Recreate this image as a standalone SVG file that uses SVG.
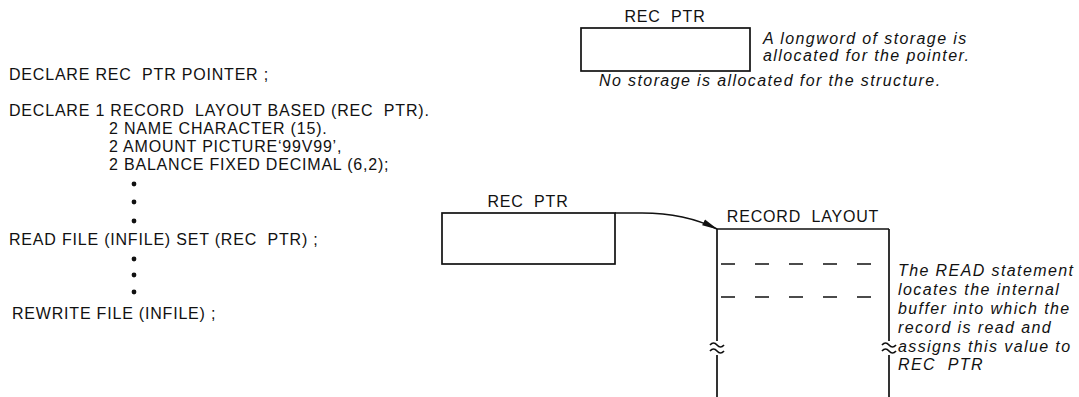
<svg xmlns="http://www.w3.org/2000/svg" width="1079" height="397" viewBox="0 0 1079 397">
<style>
text{white-space:pre}
.code{font-family:"Liberation Sans",Arial,sans-serif;font-size:16px;letter-spacing:0.8px;fill:#111}
.note{font-family:"Liberation Sans",Arial,sans-serif;font-size:16px;font-style:italic;letter-spacing:1.4px;fill:#111}
.box{fill:none;stroke:#111;stroke-width:1.7}
.ln{fill:none;stroke:#111;stroke-width:1.7}
.dash{fill:none;stroke:#111;stroke-width:1.4;stroke-dasharray:14 20}
.dot{fill:#111}
</style>
<defs>
<marker id="ah" markerWidth="16" markerHeight="8" refX="15" refY="4" orient="auto" markerUnits="userSpaceOnUse">
<path d="M0,0.8 L16,4 L0,7.2 Z" fill="#111"/>
</marker>
</defs>
<rect width="1079" height="397" fill="#fff"/>
<g id="code">
<text class="code" x="9" y="80" xml:space="preserve">DECLARE REC  PTR POINTER ;</text>
<text class="code" x="9" y="116" xml:space="preserve">DECLARE 1 RECORD  LAYOUT BASED (REC  PTR).</text>
<text class="code" x="109" y="134">2 NAME CHARACTER (15).</text>
<text class="code" x="109" y="152">2 AMOUNT PICTURE‘99V99’,</text>
<text class="code" x="109" y="170">2 BALANCE FIXED DECIMAL (6,2);</text>
<circle class="dot" cx="134" cy="184" r="2.4"/>
<circle class="dot" cx="134" cy="202" r="2.4"/>
<circle class="dot" cx="134" cy="221" r="2.4"/>
<text class="code" x="9" y="245" xml:space="preserve">READ FILE (INFILE) SET (REC  PTR) ;</text>
<circle class="dot" cx="134" cy="259" r="2.4"/>
<circle class="dot" cx="134" cy="275" r="2.4"/>
<circle class="dot" cx="134" cy="292" r="2.4"/>
<text class="code" x="12" y="319">REWRITE FILE (INFILE) ;</text>
</g>
<g id="ptr-top">
<text class="code" x="665" y="22" text-anchor="middle" xml:space="preserve">REC  PTR</text>
<rect class="box" x="581" y="28" width="169" height="43"/>
</g>
<g id="note-top">
<text class="note" x="763" y="44">A longword of storage is</text>
<text class="note" x="763" y="61">allocated for the pointer.</text>
<text class="note" x="599" y="86">No storage is allocated for the structure.</text>
</g>
<g id="ptr-mid">
<text class="code" x="528" y="207" text-anchor="middle" xml:space="preserve">REC  PTR</text>
<rect class="box" x="442" y="213" width="173" height="51"/>
</g>
<g id="record">
<text class="code" x="803" y="222" text-anchor="middle" xml:space="preserve">RECORD  LAYOUT</text>
<path class="ln" d="M717,229 H889 M717,229 V341 M717,355 V397 M889,229 V341 M889,355 V397"/>
<path class="dash" d="M721,264 H889 M721,297 H889"/>
<path class="ln" d="M710,345 q3.5,-4 7,0 t7,0 M710,351 q3.5,-4 7,0 t7,0 M882,345 q3.5,-4 7,0 t7,0 M882,351 q3.5,-4 7,0 t7,0" stroke-width="1.3"/>
</g>
<g id="note-read">
<text class="note" x="898" y="276">The READ statement</text>
<text class="note" x="898" y="295">locates the internal</text>
<text class="note" x="898" y="314">buffer into which the</text>
<text class="note" x="898" y="333">record is read and</text>
<text class="note" x="898" y="352">assigns this value to</text>
<text class="note" x="898" y="370" xml:space="preserve">REC  PTR</text>
</g>
<g id="connectors">
<path class="ln" d="M615,213 L642,213 C670,213 695,218 717,229" marker-end="url(#ah)"/>
</g>
</svg>
